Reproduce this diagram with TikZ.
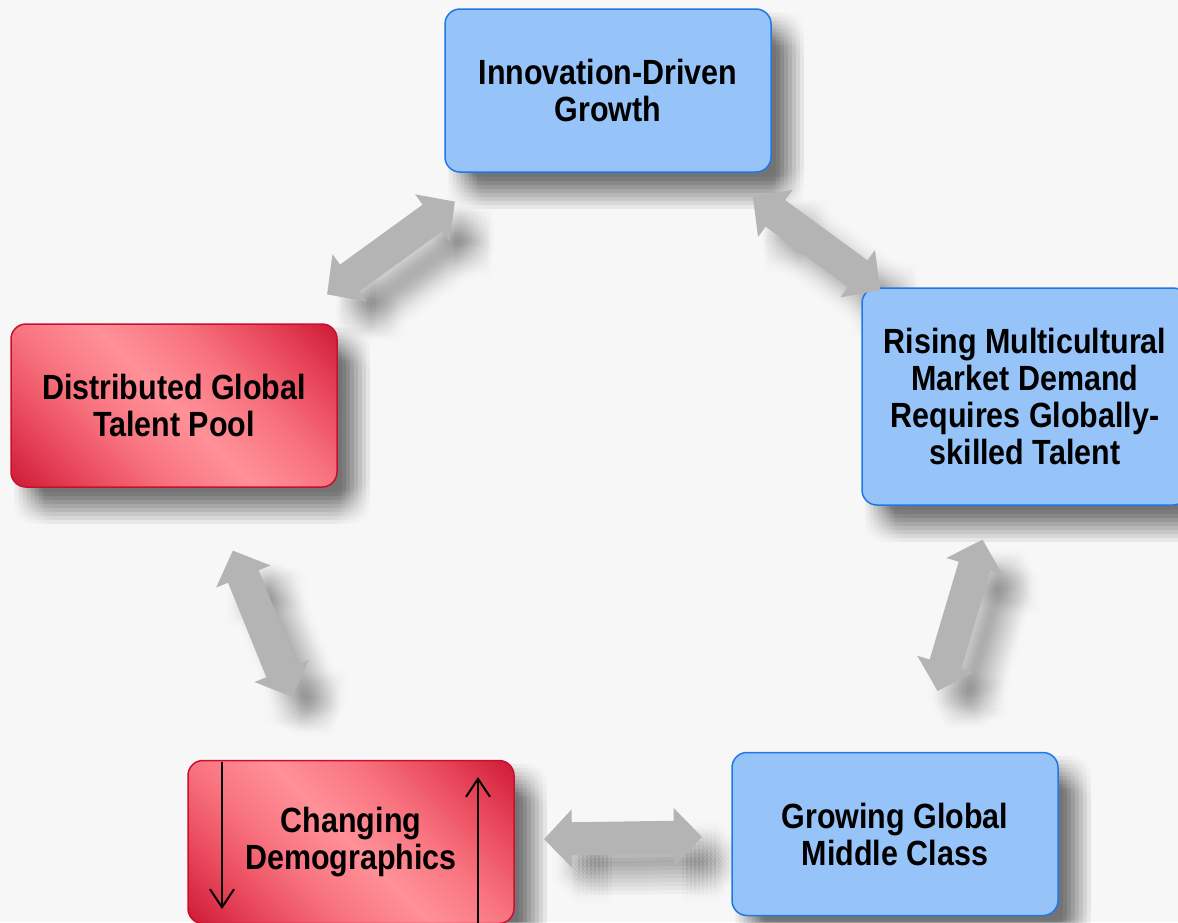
\documentclass[tikz,border=0pt]{standalone}
\usepackage{fontspec}
\newfontfamily\boxfont{Liberation Sans}[FakeStretch=0.87]
\usetikzlibrary{arrows.meta,calc,backgrounds}

\definecolor{bggray}{HTML}{F7F7F7}
\definecolor{bluefill}{HTML}{96C3F8}
\definecolor{blueline}{HTML}{1F78E6}
\definecolor{reddark}{HTML}{C8102E}
\definecolor{redmid}{HTML}{E8465A}
\definecolor{redpink}{HTML}{F8737F}
\definecolor{redlight}{HTML}{FF9198}
\definecolor{arrowgray}{HTML}{B4B4B4}

\pgfdeclareverticalshading{redglow}{100bp}{color(0bp)=(reddark); color(25bp)=(reddark); color(34bp)=(redmid); color(42bp)=(redpink); color(50bp)=(redlight); color(58bp)=(redpink); color(66bp)=(redmid); color(75bp)=(reddark); color(100bp)=(reddark)}

\tikzstyle{box} = [rectangle,rounded corners=15pt,minimum width=326pt,minimum height=163pt,align=center,line width=1.5pt,font={\boxfont\bfseries\fontsize{35pt}{37pt}\selectfont}]
\tikzstyle{bluebox} = [box,draw=blueline,fill=bluefill]
\tikzstyle{redbox} = [box,draw=reddark,path picture={\shade[shading=redglow,shading angle=-45] ($(path picture bounding box.center)+(-185,-185)$) rectangle ($(path picture bounding box.center)+(185,185)$);}]
\tikzstyle{bigarrow} = [draw=arrowgray,line width=33pt,<->,>={Triangle[width=57pt,length=28pt]}]
\tikzstyle{thinarrow} = [draw=black,line width=2pt,->,>={Straight Barb[length=18pt,width=24pt]}]

\begin{document}
\begin{tikzpicture}[x=1pt,y=-1pt]
		\useasboundingbox (0,0) rectangle (1178,922);
		\node[bluebox] (inno) at (608,90.5) {Innovation-Driven\\Growth};
		\node[bluebox,minimum height=217pt] (rise) at (1025,396.5) {Rising Multicultural\\Market Demand\\Requires Globally-\\skilled Talent};
		\node[bluebox] (grow) at (895,834) {Growing Global\\Middle Class};
		\node[redbox] (chg) at (351,842) {Changing\\Demographics};
		\node[redbox] (dist) at (174,405.5) {Distributed Global\\Talent Pool};

		\begin{pgfonlayer}{background}
		\fill[bggray] (0,0) rectangle (1178,922);
		% soft shadows under the boxes
		\foreach \n in {inno,rise,grow,chg,dist}
		\foreach \sx in {4,8,...,32}
		\foreach \sy in {4,8,...,36}
		\fill[black,opacity=0.006,rounded corners=15pt,transform canvas={xshift=\sx pt,yshift=-\sy pt}] (\n.north west) rectangle (\n.south east);
		% soft shadows under the block arrows
		\foreach \a/\b in {inno/dist,inno/rise,rise/grow,grow/chg,chg/dist}
		\foreach \sx in {8,12,...,40}
		\foreach \sy in {8,12,...,40}
		\draw[bigarrow,draw=black,opacity=0.003,transform canvas={xshift=\sx pt,yshift=-\sy pt}] ($(\a)!0.5!(\b)!79pt!(\a)$) -- ($(\a)!0.5!(\b)!79pt!(\b)$);
		\end{pgfonlayer}

		\draw[bigarrow] ($(inno)!0.5!(dist)!79pt!(inno)$) -- ($(inno)!0.5!(dist)!79pt!(dist)$);
		\draw[bigarrow] ($(inno)!0.5!(rise)!79pt!(inno)$) -- ($(inno)!0.5!(rise)!79pt!(rise)$);
		\draw[bigarrow] ($(rise)!0.5!(grow)!79pt!(rise)$) -- ($(rise)!0.5!(grow)!79pt!(grow)$);
		\draw[bigarrow] ($(grow)!0.5!(chg)!79pt!(grow)$) -- ($(grow)!0.5!(chg)!79pt!(chg)$);
		\draw[bigarrow] ($(chg)!0.5!(dist)!79pt!(chg)$) -- ($(chg)!0.5!(dist)!79pt!(dist)$);

		\coordinate (downtop) at (222,762);
		\coordinate (downend) at (222,909);
		\coordinate (upstart) at (478,925);
		\coordinate (upend) at (478,777);
		\draw[thinarrow] (downtop) -- (downend);
		\draw[thinarrow] (upstart) -- (upend);
\end{tikzpicture}
\end{document}
